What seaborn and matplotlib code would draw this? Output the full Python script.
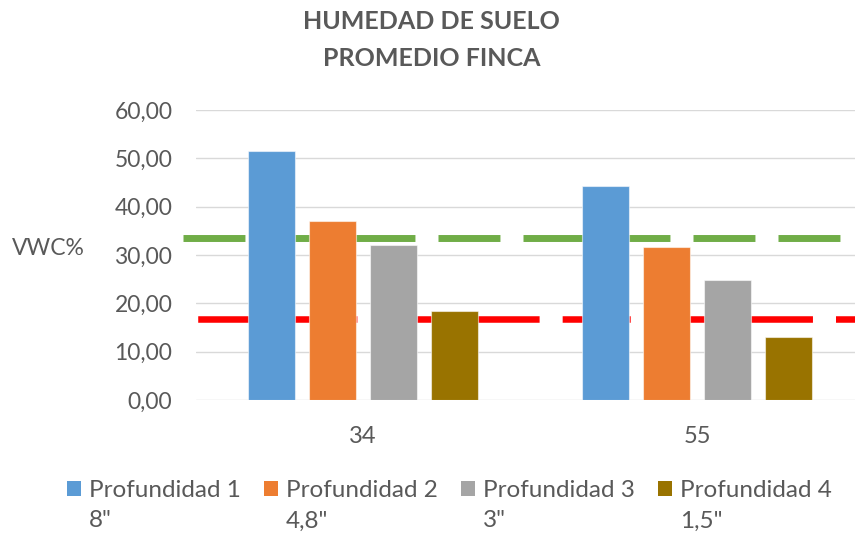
import matplotlib
matplotlib.use("Agg")
import matplotlib.pyplot as plt
from matplotlib.patches import Rectangle
from matplotlib.legend_handler import HandlerPatch
import seaborn as sns
import pandas as pd

# ---- data ----
fincas = ["34", "55"]
series = ["Profundidad 1\n8\"", "Profundidad 2\n4,8\"", "Profundidad 3\n3\"", "Profundidad 4\n1,5\""]
prof1 = [51.6, 44.2]
prof2 = [37.1, 31.7]
prof3 = [32.0, 24.9]
prof4 = [18.5, 13.1]
upper_ref = 33.5
lower_ref = 16.8
yticks = [0, 10, 20, 30, 40, 50, 60]

colors = ["#5B9BD5", "#ED7D31", "#A5A5A5", "#997300"]
txt = "#595959"

rows = []
for s, vals in zip(series, [prof1, prof2, prof3, prof4]):
    for f, v in zip(fincas, vals):
        rows.append({"finca": f, "vwc": v, "prof": s})
df = pd.DataFrame(rows)

sns.set_theme(style="white")
plt.rcParams["font.family"] = ["Lato", "DejaVu Sans"]
plt.rcParams["lines.scale_dashes"] = False

fig = plt.figure(figsize=(8.55, 5.35), dpi=100)
ax = fig.add_axes([196 / 855, 135 / 535, 668 / 855, 290 / 535])

sns.barplot(data=df, x="finca", y="vwc", hue="prof", order=fincas, hue_order=series,
            palette=colors, saturation=1, width=0.73, gap=0.23, ax=ax, legend=False,
            edgecolor=(1, 1, 1, 0.55), linewidth=0.8, zorder=2)

# reference lines (behind bars)
ax.axhline(upper_ref, xmin=-0.0195, xmax=1.0, color="#70AD47", lw=5.0,
           linestyle=(0, (44.6, 16.6)), clip_on=False, zorder=1.5)
ax.axhline(lower_ref, xmin=-0.0195, xmax=1.0, color="#FF0000", lw=4.7,
           linestyle=(55, (49.0, 16.6)), clip_on=False, zorder=1.5)

ax.set_ylim(0, 60)
ax.set_xlim(-0.5, 1.5)
ax.set_yticks(yticks)
ax.set_yticklabels([f"{v:.2f}".replace(".", ",") for v in yticks])
ax.yaxis.grid(True, color="#D9D9D9", lw=1.0)
ax.set_axisbelow(True)
for sp in ax.spines.values():
    sp.set_visible(False)
ax.tick_params(axis="both", length=0, labelcolor=txt)
ax.tick_params(axis="y", pad=17, labelsize=16.5)
ax.tick_params(axis="x", pad=19, labelsize=17)
ax.set_xlabel("")
ax.set_ylabel("VWC%", rotation=0, fontsize=16.5, color=txt, ha="center", va="center")
ax.yaxis.set_label_coords(-0.2216, 0.524)

fig.text(0.5047, 1 - 10 / 535, "HUMEDAD DE SUELO\nPROMEDIO FINCA", ha="center", va="top",
         fontsize=18, fontweight="bold", color=txt, linespacing=1.76)

# legend
def top_square(legend, orig_handle, xdescent, ydescent, width, height, fontsize):
    return Rectangle((-xdescent, -ydescent + 0.7 * fontsize), width, height)

handles = [Rectangle((0, 0), 1, 1, facecolor=c, edgecolor="none") for c in colors]
leg = fig.legend(handles, series, ncol=4, loc="upper left", bbox_to_anchor=(67 / 855, 1 - 480 / 535),
                 frameon=False, fontsize=17.5, handlelength=0.58, handleheight=0.58,
                 handletextpad=0.33, columnspacing=0.94, borderpad=0, borderaxespad=0,
                 handler_map={Rectangle: HandlerPatch(patch_func=top_square)})
for t in leg.get_texts():
    t.set_color(txt)
    t.set_linespacing(1.55)

fig.savefig("out.png", dpi=100)
